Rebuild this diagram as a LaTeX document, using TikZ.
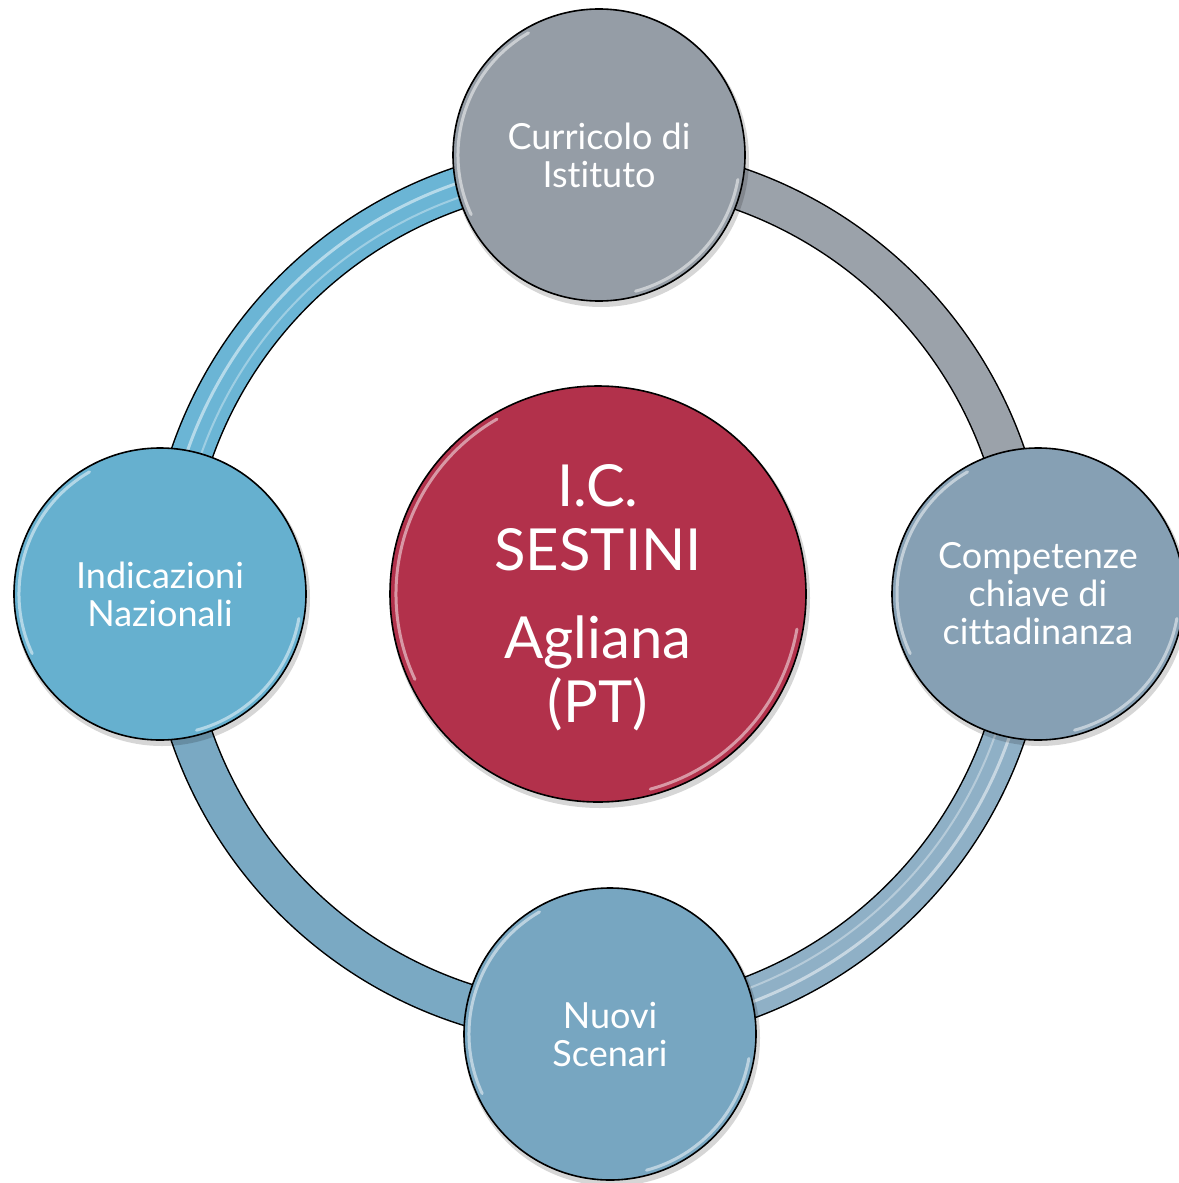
\documentclass[tikz,border=0pt]{standalone}
\usepackage{fontspec}
\setmainfont{Lato}[Ligatures=NoCommon]
\definecolor{ctop}{HTML}{959DA6}
\definecolor{cright}{HTML}{86A0B4}
\definecolor{cbot}{HTML}{77A6C1}
\definecolor{cleft}{HTML}{66B0CF}
\definecolor{ccen}{HTML}{B2314B}
\definecolor{rtl}{HTML}{6BB5D5}
\definecolor{rtr}{HTML}{9BA2AA}
\definecolor{rbr}{HTML}{8FB0C6}
\definecolor{rbl}{HTML}{7AA9C3}
\tikzset{
  sat/.style={circle, draw=black, line width=1.6pt, minimum size=292pt, inner sep=0pt,
    text=white, align=center, font=\fontsize{36}{38}\selectfont},
  hub/.style={circle, draw=black, line width=1.6pt, minimum size=416pt, inner sep=0pt,
    fill=ccen, text=white, align=center, font=\fontsize{58}{64}\selectfont},
  bandout/.style={line width=43pt, black},
  bandin/.style={line width=40pt},
  gloss/.style={white, line width=3pt, opacity=0.5, line cap=round},
  stripe/.style={line width=3pt, white, opacity=0.5},
  shade/.style={black, opacity=0.16},
}
\newcommand{\glossring}[2]{%
  \draw[gloss] (#1) ++(120:#2) arc[start angle=120, end angle=205, radius=#2];
  \draw[gloss] (#1) ++(285:#2) arc[start angle=285, end angle=350, radius=#2];
}
\begin{document}
\begin{tikzpicture}[x=1pt, y=1pt]
\useasboundingbox (0,0) rectangle (1178,-1183);
\fill[white] (0,0) rectangle (1178,-1183);
\coordinate (O) at (598,-595);
\coordinate (pT) at (599,-155);
\coordinate (pL) at (160,-594);
\coordinate (pB) at (610,-1034);
\coordinate (pR) at (1038,-594);
\coordinate (pC) at (598,-594);
% ring
\draw[bandout] (O) ++(180:430) arc[start angle=180, end angle=90, radius=430];
\draw[bandin, rtl] (O) ++(180:430) arc[start angle=180, end angle=90, radius=430];
\draw[stripe] (O) ++(180:435) arc[start angle=180, end angle=90, radius=435];
\draw[stripe, line width=2pt, opacity=0.35] (O) ++(180:421) arc[start angle=180, end angle=90, radius=421];
\draw[bandout] (O) ++(90:430) arc[start angle=90, end angle=0, radius=430];
\draw[bandin, rtr] (O) ++(90:430) arc[start angle=90, end angle=0, radius=430];
\draw[bandout] (O) ++(0:430) arc[start angle=0, end angle=-90, radius=430];
\draw[bandin, rbr] (O) ++(0:430) arc[start angle=0, end angle=-90, radius=430];
\draw[stripe] (O) ++(0:435) arc[start angle=0, end angle=-90, radius=435];
\draw[stripe, line width=2pt, opacity=0.35] (O) ++(0:421) arc[start angle=0, end angle=-90, radius=421];
\draw[bandout] (O) ++(-90:430) arc[start angle=-90, end angle=-180, radius=430];
\draw[bandin, rbl] (O) ++(-90:430) arc[start angle=-90, end angle=-180, radius=430];
% shadows
\foreach \p in {pT,pL,pB,pR} \fill[shade] ([shift={(2,-4)}]\p) circle[radius=148];
\fill[shade] ([shift={(2,-4)}]pC) circle[radius=210];
% nodes
\node[sat, fill=ctop] (top) at (pT) {Curricolo di\\Istituto};
\node[sat, fill=cleft] (left) at (pL) {Indicazioni\\Nazionali};
\node[sat, fill=cbot] (bottom) at (pB) {Nuovi\\Scenari};
\node[sat, fill=cright] (right) at (pR) {Competenze\\chiave di\\cittadinanza};
\node[hub] (hub) at (pC) {\vphantom{I}\\[-56pt]I.C.\\SESTINI\\[24pt]Agliana\\(PT)};
\glossring{pT}{141}
\glossring{pL}{141}
\glossring{pB}{141}
\glossring{pR}{141}
\glossring{pC}{202}
\end{tikzpicture}
\end{document}
